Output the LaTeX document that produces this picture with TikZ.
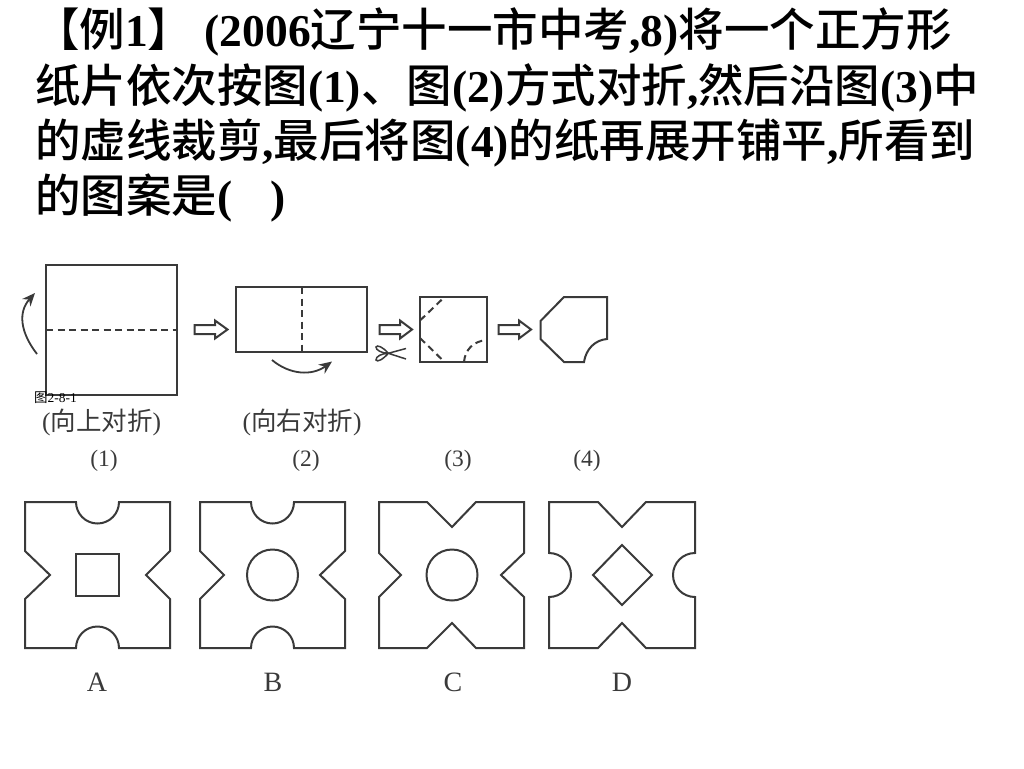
\documentclass[tikz,border=0pt]{standalone}
\usepackage{fontspec}
\usetikzlibrary{arrows.meta}
\setmainfont{Liberation Serif}
\newfontfamily\cjk{Noto Sans CJK SC}[BoldFont={Noto Sans CJK SC Medium}]
\definecolor{ink}{HTML}{3A3A3A}
\newcommand{\hc}[1]{{\cjk\bfseries #1}}
\newcommand{\hollowarrow}[4]{%
  \draw[figline,fill=white] (#1,#4-4.5) -- (#2,#4-4.5) -- (#2,#4-9) -- (#3,#4) -- (#2,#4+9) -- (#2,#4+4.5) -- (#1,#4+4.5) -- cycle;}
\tikzset{
  figline/.style={draw=ink,line width=2pt,line join=miter},
  cutline/.style={figline,dash pattern=on 7pt off 4.5pt},
  foldarrow/.style={draw=ink,line width=1.8pt,-{Stealth[length=13pt,width=11pt]}},
  headline/.style={anchor=base west,inner sep=0pt,outer sep=0pt,font=\fontsize{45.5}{46}\selectfont\bfseries,text=black},
  caption/.style={inner sep=0pt,outer sep=0pt,text=ink,font=\fontsize{25.5}{26}\selectfont},
  numlabel/.style={inner sep=0pt,outer sep=0pt,text=ink,font=\fontsize{23.5}{24}\selectfont},
  optlabel/.style={inner sep=0pt,outer sep=0pt,text=ink,font=\fontsize{28}{28}\selectfont}
}
\begin{document}
\begin{tikzpicture}[x=1pt,y=-1pt]
\useasboundingbox (0,0) rectangle (1024,768);
\fill[white] (0,0) rectangle (1024,768);
% heading
\node[headline] (l1) at (34,46) {\hc{【例}1\hc{】} (2006\hc{辽宁十一市中考},8)\hc{将一个正方形}};
\node[headline] (l2) at (35,102) {\hc{纸片依次按图}(1)\hc{、图}(2)\hc{方式对折},\hc{然后沿图}(3)\hc{中}};
\node[headline] (l3) at (35,157) {\hc{的虚线裁剪},\hc{最后将图}(4)\hc{的纸再展开铺平},\hc{所看到}};
\node[headline] (l4) at (35,212) {\hc{的图案是}(\hspace{0.85em})};
% figure 1
\draw[figline] (46,264.5) rectangle (177,395);
\draw[cutline] (46,329.5) -- (177,329.5);
\draw[foldarrow] (37,354) .. controls (20,332) and (18,312) .. (35,293);
\hollowarrow{194.5}{215}{227.5}{329.5}
% figure 2
\draw[figline] (236,287) rectangle (367,352);
\draw[cutline] (301.5,287) -- (301.5,352);
\draw[foldarrow] (272,360) .. controls (290,375) and (312,376) .. (332,361.5);
% scissors
\draw[draw=ink,line width=1.5pt] (406,348.5) -- (388.3,353.3) -- (406,359);
\draw[draw=ink,line width=1.5pt] (388.3,353.3) .. controls (383,347) and (377,344.5) .. (376,347) .. controls (375.5,350) and (382,353.3) .. (388.3,353.3);
\draw[draw=ink,line width=1.5pt] (388.3,353.3) .. controls (383,359.5) and (377,362.5) .. (376,360) .. controls (375.5,356.5) and (382,353.3) .. (388.3,353.3);
\hollowarrow{379.5}{400}{412}{329.5}
% figure 3
\draw[figline] (420,297) rectangle (487,362);
\draw[cutline] (420,320.5) -- (444.5,297);
\draw[cutline] (420,338) -- (444.5,362);
\draw[cutline] (464,362) .. controls (465,350) and (473,341) .. (487,340);
\hollowarrow{498.5}{519}{531}{329.5}
% figure 4
\draw[figline] (564,297) -- (607,297) -- (607,339) .. controls (595,340) and (586,349) .. (584,362) -- (564,362) -- (540.5,339) -- (540.5,321) -- cycle;
% captions
\node[inner sep=0pt,font=\fontsize{13.5}{14}\selectfont,text=black,anchor=west] (tag) at (34,397.5) {\cjk 图\rmfamily 2-8-1};
\node[caption] (c1) at (101.5,422) {(\cjk 向上对折\rmfamily)};
\node[caption] (c2) at (302,422) {(\cjk 向右对折\rmfamily)};
\node[numlabel] (n1) at (104,460.5) {(1)};
\node[numlabel] (n2) at (306,460.5) {(2)};
\node[numlabel] (n3) at (458,460.5) {(3)};
\node[numlabel] (n4) at (587,460.5) {(4)};
% option A
\draw[figline] (25,502) -- (76,502) arc[start angle=180,end angle=0,radius=21.5] -- (170,502) -- (170,551) -- (146,575) -- (170,599) -- (170,648) -- (119,648) arc[start angle=0,end angle=-180,radius=21.5] -- (25,648) -- (25,599) -- (50,575) -- (25,551) -- cycle;
\draw[figline] (76,554) rectangle (119,596);
% option B
\draw[figline] (200,502) -- (251,502) arc[start angle=180,end angle=0,radius=21.5] -- (345,502) -- (345,551) -- (320,575) -- (345,599) -- (345,648) -- (294,648) arc[start angle=0,end angle=-180,radius=21.5] -- (200,648) -- (200,599) -- (224,575) -- (200,551) -- cycle;
\draw[figline] (272.5,575) circle[radius=25.5];
% option C
\draw[figline] (379,502) -- (427,502) -- (452,527) -- (476,502) -- (524,502) -- (524,553) -- (501,575) -- (524,597) -- (524,648) -- (476,648) -- (452,623) -- (427,648) -- (379,648) -- (379,597) -- (401,575) -- (379,553) -- cycle;
\draw[figline] (452,575) circle[radius=25.5];
% option D
\draw[figline] (549,502) -- (598,502) -- (622,527) -- (646,502) -- (695,502) -- (695,553) arc[start angle=-90,end angle=-270,radius=22] -- (695,648) -- (646,648) -- (622,623) -- (598,648) -- (549,648) -- (549,597) arc[start angle=90,end angle=-90,radius=22] -- cycle;
\draw[figline] (593,575) -- (622,545) -- (652,575) -- (622,605) -- cycle;
% option letters
\node[optlabel] (a) at (97,682) {A};
\node[optlabel] (b) at (273,682) {B};
\node[optlabel] (c) at (453,682) {C};
\node[optlabel] (d) at (622,682) {D};
\end{tikzpicture}
\end{document}
